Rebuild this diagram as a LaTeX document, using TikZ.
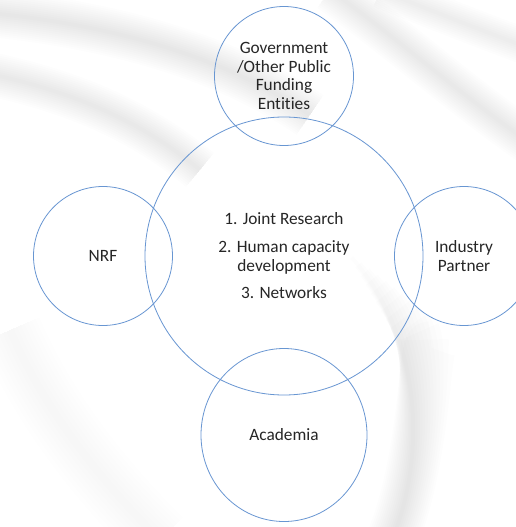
\documentclass[tikz,border=0pt]{standalone}
\usepackage{fontspec}
\setmainfont{Carlito}[Ligatures=NoCommon]
\usetikzlibrary{shapes.geometric}
\definecolor{ringblue}{RGB}{104,150,210}
\definecolor{txt}{RGB}{38,38,38}

\begin{document}
\begin{tikzpicture}[x=1pt, y=-1pt, font=\fontsize{17.3}{18.7}\selectfont, line join=round, line cap=round,
	ring/.style={circle, draw=ringblue, line width=0.8pt, align=center, text=txt, inner sep=0pt},
	swirl/.style={line cap=butt, draw=black, draw opacity=0.007}]
	\useasboundingbox (0,0) rectangle (516,527);
	\clip (0,0) rectangle (516,527);
	\fill[white] (0,0) rectangle (516,527);
	% soft grey swirls behind the rings
	\foreach \w in {4,8,...,48}
		\draw[swirl, line width=\w pt] (-20,12) .. controls (120,25) and (230,60) .. (310,115);
	\foreach \w in {4,8,...,44}
		\draw[swirl, line width=\w pt] (-20,72) .. controls (70,90) and (140,120) .. (200,170);
	\foreach \w in {4,8,...,44}
		\draw[swirl, line width=\w pt] (330,-10) .. controls (400,40) and (460,95) .. (540,150);
	\foreach \w in {4,8,...,36}
		\draw[swirl, line width=\w pt] (380,-10) .. controls (430,10) and (480,30) .. (540,52);
	% tapered at its upper end
	\foreach \w in {4,8,...,52}
		\draw[swirl, shorten <=2.5*\w pt, line width=\w pt] (345,250) .. controls (425,340) and (425,460) .. (392,540);
	\foreach \w in {8,16,...,64}
		\draw[swirl, draw opacity=0.004, line width=\w pt] (10,330) .. controls (40,400) and (90,470) .. (160,540);

	% rings
	\node[ring, minimum size=278pt] (hub) at (284,256)
		{1. Joint Research\\[9pt] 2. Human capacity\\ development\\[9pt] 3. Networks};
	\node[ring, minimum size=139pt] (gov) at (284,76)
		{Government\\ /Other Public\\ Funding\\ Entities};
	\node[ring, minimum size=139pt] (nrf) at (103,256) {NRF};
	\node[ring, minimum size=139pt] (ind) at (464,256) {Industry\\ Partner};
	\node[ring, ellipse, minimum width=166pt, minimum height=173pt] (acad) at (284,435) {Academia};
\end{tikzpicture}
\end{document}
